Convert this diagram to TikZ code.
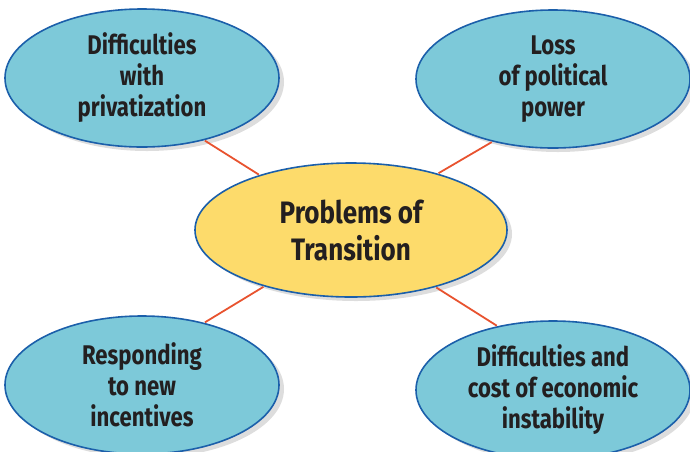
\documentclass[tikz,border=0pt]{standalone}
\usepackage{fontspec}
\setmainfont{Fira Sans}[FakeStretch=0.82,UprightFont=* Bold]
\newfontfamily\hubfont{Fira Sans}[FakeStretch=0.84,UprightFont=* Bold]
\usetikzlibrary{shapes.geometric,shadows}
\definecolor{bubblefill}{HTML}{7DC9D9}
\definecolor{bubbleedge}{HTML}{1B5FAA}
\definecolor{centerfill}{HTML}{FDDB6B}
\definecolor{linkred}{HTML}{E8532F}
\definecolor{txt}{HTML}{231F20}
\begin{document}
\begin{tikzpicture}[x=1pt,y=-1pt,
  bubble/.style={ellipse,draw=bubbleedge,line width=1.6pt,fill=bubblefill,
    minimum width=274pt,minimum height=138pt,inner sep=0pt,align=center,
    text=txt,font=\fontsize{27}{31}\selectfont,
    drop shadow={shadow xshift=5pt,shadow yshift=-4pt,opacity=0.22,fill=black!60}},
  hub/.style={bubble,fill=centerfill,minimum width=312pt,minimum height=134pt,
    font=\hubfont\fontsize{31}{37}\selectfont},
  link/.style={draw=linkred,line width=1.8pt,shorten <=0.8pt,shorten >=0.8pt}]
\useasboundingbox (0,0) rectangle (690,451);
\node[bubble] (tl) at (142,78) {Difficulties\\with\\privatization};
\node[bubble] (tr) at (553,79) {Loss\\of political\\power};
\node[bubble] (bl) at (142,385) {Responding\\to new\\incentives};
\node[bubble] (br) at (553,390) {Difficulties and\\cost of economic\\instability};
\node[hub] (c) at (351,230) {Problems of\\Transition};
\draw[link] (c.149) -- (tl.-45);
\draw[link] (c.33) -- (tr.-134);
\draw[link] (c.-147) -- (bl.45);
\draw[link] (c.-34) -- (br.131);
\end{tikzpicture}
\end{document}
